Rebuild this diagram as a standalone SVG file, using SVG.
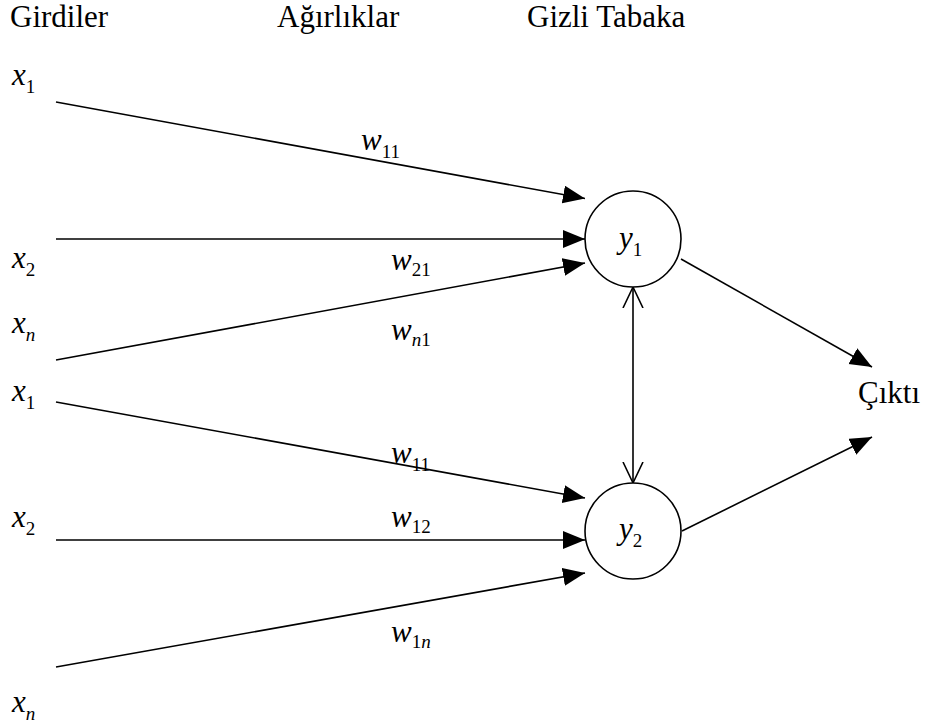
<svg xmlns="http://www.w3.org/2000/svg" width="926" height="727" viewBox="0 0 926 727">
<style>
text{fill:#000}
.h{font-size:31px}
.v{font-size:31px;font-style:italic}
.s{font-size:19px;font-style:normal}
.si{font-size:19px;font-style:italic}
.ln{stroke:#000;stroke-width:1.6;fill:none}
.node{stroke:#000;stroke-width:1.6;fill:#fff}
</style>
<defs>
<marker id="arr" markerUnits="userSpaceOnUse" markerWidth="24" markerHeight="20" refX="22" refY="9" orient="auto" viewBox="0 0 24 20">
<path d="M0,0 L22,9 L0,18 z" fill="#000"/>
</marker>
<marker id="open" markerUnits="userSpaceOnUse" markerWidth="24" markerHeight="24" refX="21" refY="11" orient="auto-start-reverse" viewBox="0 0 24 24">
<path d="M0,1 L21,11 L0,21" fill="none" stroke="#000" stroke-width="1.6"/>
</marker>
</defs>
<g id="headers">
<text class="h" font-family="Liberation Serif" x="10" y="27">Girdiler</text>
<text class="h" font-family="Liberation Serif" x="277" y="27">Ağırlıklar</text>
<text class="h" font-family="Liberation Serif" x="527" y="27">Gizli Tabaka</text>
</g>
<g id="connectors">
<line class="ln" x1="56" y1="102" x2="585" y2="198.5" marker-end="url(#arr)"/>
<line class="ln" x1="56" y1="239" x2="585" y2="239" marker-end="url(#arr)"/>
<line class="ln" x1="56" y1="360" x2="585" y2="263" marker-end="url(#arr)"/>
<line class="ln" x1="56" y1="402" x2="585" y2="498" marker-end="url(#arr)"/>
<line class="ln" x1="56" y1="540" x2="585" y2="540" marker-end="url(#arr)"/>
<line class="ln" x1="56" y1="667" x2="585" y2="573" marker-end="url(#arr)"/>
<line class="ln" x1="681" y1="259" x2="872" y2="367" marker-end="url(#arr)"/>
<line class="ln" x1="682" y1="531" x2="872" y2="437" marker-end="url(#arr)"/>
<line class="ln" x1="633" y1="287" x2="633" y2="483" marker-start="url(#open)" marker-end="url(#open)"/>
</g>
<g id="inputs">
<text class="v" font-family="Liberation Serif" x="12" y="85">x<tspan class="s" dy="8">1</tspan></text>
<text class="v" font-family="Liberation Serif" x="12" y="268">x<tspan class="s" dy="8">2</tspan></text>
<text class="v" font-family="Liberation Serif" x="12" y="333">x<tspan class="si" dy="8">n</tspan></text>
<text class="v" font-family="Liberation Serif" x="12" y="401">x<tspan class="s" dy="8">1</tspan></text>
<text class="v" font-family="Liberation Serif" x="12" y="527">x<tspan class="s" dy="8">2</tspan></text>
<text class="v" font-family="Liberation Serif" x="12" y="712">x<tspan class="si" dy="8">n</tspan></text>
</g>
<g id="weights">
<text class="v" font-family="Liberation Serif" x="361" y="150">w<tspan class="s" dy="8">11</tspan></text>
<text class="v" font-family="Liberation Serif" x="391" y="270">w<tspan class="s" dy="6">21</tspan></text>
<text class="v" font-family="Liberation Serif" x="391" y="340">w<tspan class="si" dy="6">n</tspan><tspan class="s">1</tspan></text>
<text class="v" font-family="Liberation Serif" x="391" y="463">w<tspan class="s" dy="8">11</tspan></text>
<text class="v" font-family="Liberation Serif" x="391" y="527">w<tspan class="s" dy="6">12</tspan></text>
<text class="v" font-family="Liberation Serif" x="391" y="642">w<tspan class="s" dy="6">1</tspan><tspan class="si">n</tspan></text>
</g>
<g id="y1">
<circle class="node" cx="633" cy="239" r="48"/>
<text class="v" font-family="Liberation Serif" x="619" y="248">y<tspan class="s" dy="8">1</tspan></text>
</g>
<g id="y2">
<circle class="node" cx="633" cy="531" r="48"/>
<text class="v" font-family="Liberation Serif" x="619" y="539">y<tspan class="s" dy="8">2</tspan></text>
</g>
<g id="output">
<text class="h" font-family="Liberation Serif" x="858" y="403">Çıktı</text>
</g>
</svg>
